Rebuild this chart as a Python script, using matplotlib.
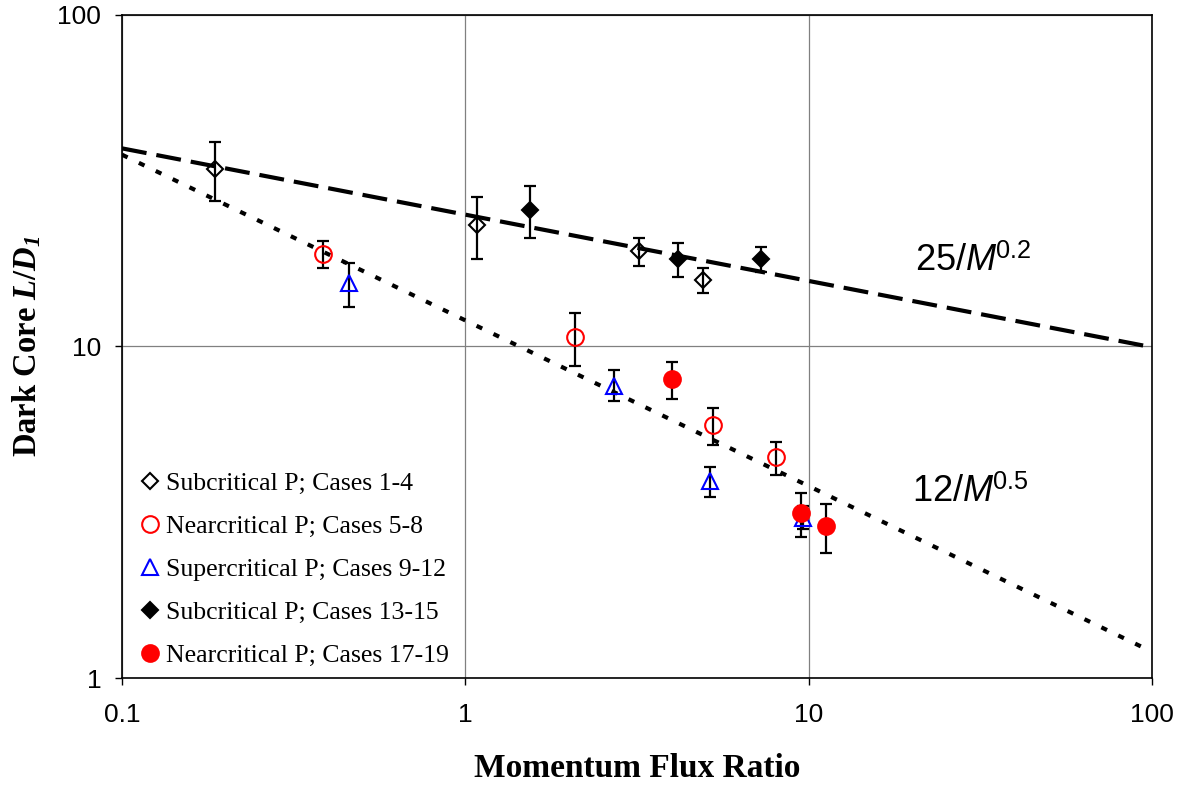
import matplotlib
matplotlib.use("Agg")
import matplotlib.pyplot as plt
from matplotlib.ticker import FixedLocator, FixedFormatter, NullLocator

# momentum flux ratio M, dark core length L/D1, error bar top / bottom
sub_M = [0.186, 1.08, 3.20, 4.91]
sub_L = [34.4, 23.3, 19.4, 15.9]
sub_hi = [41.3, 28.2, 21.3, 17.3]
sub_lo = [27.4, 18.3, 17.5, 14.5]

near_M = [0.384, 2.09, 5.27, 8.02]
near_L = [19.0, 10.7, 5.79, 4.64]
near_hi = [20.8, 12.6, 6.52, 5.16]
near_lo = [17.2, 8.72, 5.04, 4.09]

super_M = [0.459, 2.71, 5.17, 9.65]
super_L = [15.5, 7.62, 3.93, 3.04]
super_hi = [17.9, 8.49, 4.33, 3.30]
super_lo = [13.2, 6.83, 3.52, 2.81]

sub2_M = [1.54, 4.15, 7.25]
sub2_L = [25.8, 18.3, 18.4]
sub2_hi = [30.4, 20.5, 20.0]
sub2_lo = [21.2, 16.2, 16.8]

near2_M = [3.99, 9.48, 11.2]
near2_L = [7.98, 3.15, 2.88]
near2_hi = [9.01, 3.62, 3.36]
near2_lo = [6.94, 2.66, 2.38]

# correlation lines, end points at M = 0.1 and 100
fit_M = [0.1, 100]
fit_a = [39.6, 9.95]   # 25/M^0.2
fit_b = [37.9, 1.2]    # 12/M^0.5

xticks = [0.1, 1, 10, 100]
xlabels = ["0.1", "1", "10", "100"]
yticks = [1, 10, 100]
ylabels = ["1", "10", "100"]

plt.rcParams["mathtext.fontset"] = "custom"
plt.rcParams["mathtext.rm"] = "Liberation Serif:bold"
plt.rcParams["mathtext.it"] = "Liberation Serif:italic:bold"
plt.rcParams["mathtext.cal"] = "Liberation Serif:italic:bold"
plt.rcParams["mathtext.sf"] = "Liberation Sans:italic"

fig = plt.figure(figsize=(11.83, 7.85), dpi=100)
ax = fig.add_axes([0.1031, 0.1363, 0.8707, 0.8446])
ax.set_xscale("log")
ax.set_yscale("log")

ax.plot(fit_M, fit_a, color="black", lw=3, dashes=(6, 2.4), zorder=2)
ax.plot(fit_M, fit_b, color="black", lw=3, dashes=(1.5, 3.0), zorder=2)

series = [
    (sub_M, sub_L, sub_hi, sub_lo, "D", 8.5, "black", "none", "Subcritical P; Cases 1-4"),
    (near_M, near_L, near_hi, near_lo, "o", 12, "red", "none", "Nearcritical P; Cases 5-8"),
    (super_M, super_L, super_hi, super_lo, "^", 12, "blue", "none", "Supercritical P; Cases 9-12"),
    (sub2_M, sub2_L, sub2_hi, sub2_lo, "D", 8.5, "black", "black", "Subcritical P; Cases 13-15"),
    (near2_M, near2_L, near2_hi, near2_lo, "o", 12, "red", "red", "Nearcritical P; Cases 17-19"),
]

for m, l, hi, lo, mk, ms, ec, fc, lab in series:
    yerr = [[a - b for a, b in zip(l, lo)], [b - a for a, b in zip(l, hi)]]
    ax.errorbar(m, l, yerr=yerr, fmt="none", ecolor="black", elinewidth=1.6,
                capsize=4, capthick=1.6, zorder=3)
    ax.plot(m, l, linestyle="none", marker=mk, markersize=ms, markeredgecolor=ec,
            markerfacecolor=fc, markeredgewidth=1.5, label=lab, zorder=4)

ax.set_xlim(0.1, 100)
ax.set_ylim(1, 100)
ax.xaxis.set_major_locator(FixedLocator(xticks))
ax.xaxis.set_major_formatter(FixedFormatter(xlabels))
ax.yaxis.set_major_locator(FixedLocator(yticks))
ax.yaxis.set_major_formatter(FixedFormatter(ylabels))
ax.xaxis.set_minor_locator(NullLocator())
ax.yaxis.set_minor_locator(NullLocator())
ax.tick_params(axis="both", direction="out", length=5, width=1, labelsize=19)
ax.tick_params(axis="x", pad=13)
ax.tick_params(axis="y", pad=10)
for t in ax.get_xticklabels() + ax.get_yticklabels():
    t.set_family("Liberation Sans")

ax.grid(True, color="#808080", lw=0.9)
ax.set_axisbelow(True)
for s in ax.spines.values():
    s.set_linewidth(1.2)
    s.set_color("black")

ax.set_xlabel("Momentum Flux Ratio", family="Liberation Serif", weight="bold",
              fontsize=24, labelpad=19)
ax.set_ylabel(r"Dark Core $L/D_\mathcal{1}$", family="Liberation Serif", weight="bold",
              fontsize=23.5, labelpad=10)

ax.text(20.4, 16.9, r"25/$\mathsf{M}^{\mathdefault{0.2}}$", family="Liberation Sans",
        fontsize=26, va="baseline", ha="left")
ax.text(20.0, 3.40, r"12/$\mathsf{M}^{\mathdefault{0.5}}$", family="Liberation Sans",
        fontsize=26, va="baseline", ha="left")

ax.legend(loc="lower left", bbox_to_anchor=(0.0175, 0.0166), frameon=False,
          prop={"family": "Liberation Serif", "size": 18.5}, handlelength=0.8,
          handletextpad=0.2, labelspacing=0.78, borderpad=0, borderaxespad=0)

fig.savefig("out.png", dpi=100)
